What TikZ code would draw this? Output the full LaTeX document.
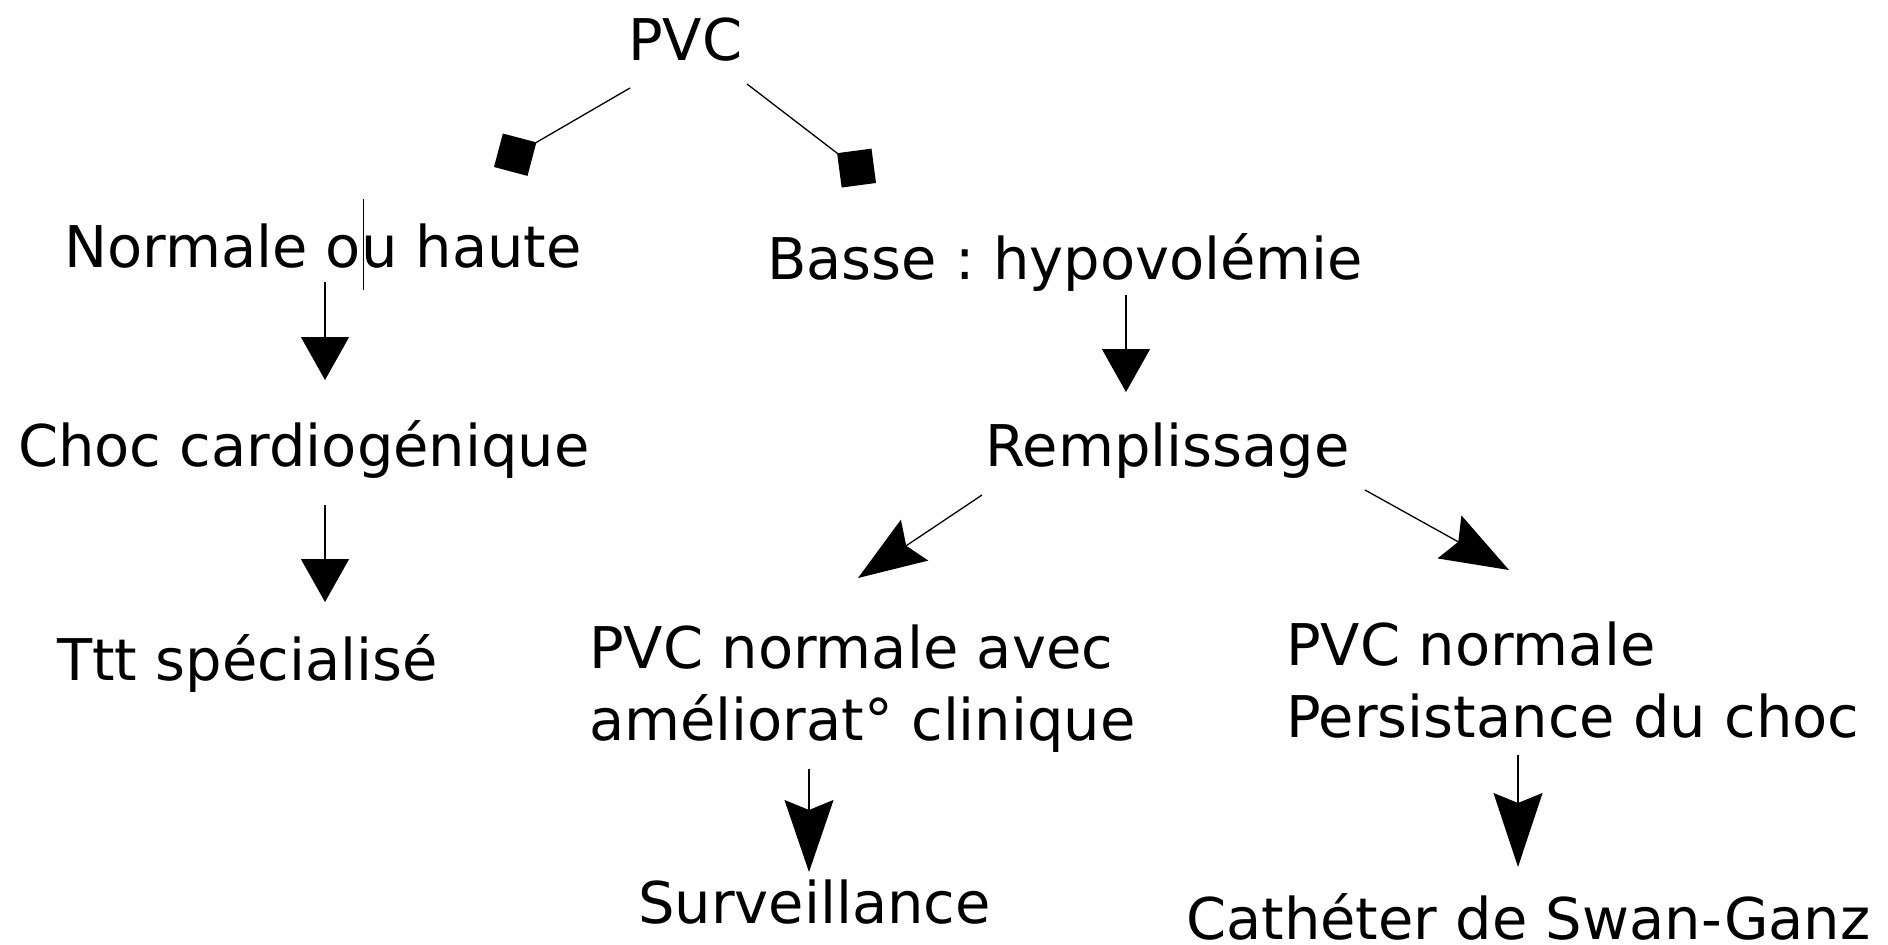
\documentclass[tikz,border=0pt]{standalone}
\usepackage{fontspec}
\setmainfont{DejaVu Sans}
\usetikzlibrary{arrows.meta}
\begin{document}
\frenchspacing
\begin{tikzpicture}[x=1pt,y=-1pt,
  txt/.style={anchor=base west, inner sep=0pt, font=\fontsize{57.5}{72}\selectfont},
  con/.style={line width=1.3pt},
  dia/.style={con,-{Diamond[length=49pt,width=49pt]}},
  tri/.style={con,-{Triangle[length=43pt,width=48pt]}},
  stl/.style={con,-{Stealth[length=#1,width=49pt,inset=10pt]}}]
\useasboundingbox (0,0) rectangle (1888,945);
\node[txt] (pvc) at (628,60) {PVC};
\node[txt] (nh) at (64,267) {Normale ou haute};
\node[txt] (basse) at (767,279) {Basse : hypovolémie};
\node[txt] (choc) at (18,466) {Choc cardiogénique};
\node[txt] (remp) at (985,466) {Remplissage};
\node[txt] (ttt) at (57,680) {Ttt spécialisé};
\node[txt,align=left] (amel) at (589,740) {PVC normale avec\\améliorat° clinique};
\node[txt,align=left] (pers) at (1286,737) {PVC normale\\Persistance du choc};
\node[txt] (surv) at (638,923) {Surveillance};
\node[txt] (cath) at (1186,939) {Cathéter de Swan-Ganz};
% connector end points
\coordinate (p1) at (630,88); \coordinate (q1) at (494,167);
\coordinate (p2) at (747,84); \coordinate (q2) at (876,183);
\coordinate (p3) at (325,282); \coordinate (q3) at (325,380);
\coordinate (p4) at (325,505); \coordinate (q4) at (325,602);
\coordinate (p5) at (1126,295); \coordinate (q5) at (1126,392);
\coordinate (p6) at (982,495); \coordinate (q6) at (858,578);
\coordinate (p7) at (1365,490); \coordinate (q7) at (1509,570);
\coordinate (p8) at (809,769); \coordinate (q8) at (809,872);
\coordinate (p9) at (1518,755); \coordinate (q9) at (1518,867);
\coordinate (k1) at (363,199); \coordinate (k2) at (363,290);
\draw[dia] (p1) -- (q1);
\draw[dia] (p2) -- (q2);
\draw[tri] (p3) -- (q3);
\draw[tri] (p4) -- (q4);
\draw[tri] (p5) -- (q5);
\draw[stl=68pt] (p6) -- (q6);
\draw[stl=68pt] (p7) -- (q7);
\draw[stl=72pt] (p8) -- (q8);
\draw[stl=74pt] (p9) -- (q9);
\draw[line width=1pt] (k1) -- (k2);
\end{tikzpicture}
\end{document}
